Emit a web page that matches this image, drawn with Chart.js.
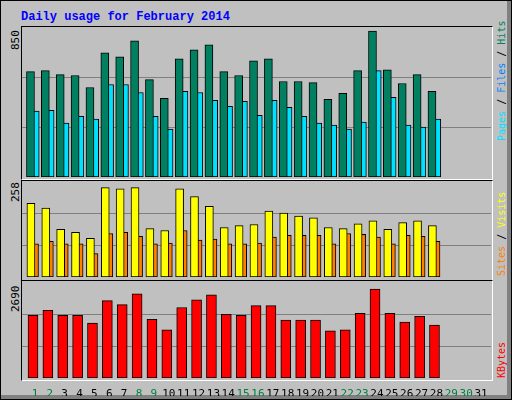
<!DOCTYPE html>
<html><head><meta charset="utf-8">
<script src="https://cdn.jsdelivr.net/npm/chart.js@4"></script>
<style>
body{margin:0;background:#fff}
#frame{position:absolute;left:0;top:0;width:510px;height:398px;background:#c0c0c0;border:1px solid #000;overflow:hidden}
#frame:after{content:"";position:absolute;right:0;top:0;width:4px;height:100%;background:#808080}
#bot{position:absolute;left:0;bottom:0;width:100%;height:4px;background:#808080}
.t{position:absolute;font-family:"Liberation Mono",monospace;font-weight:bold;font-size:12px;color:#0000ff;left:20px;top:9px;white-space:nowrap}
.panel{position:absolute;left:20px;width:470px;border-top:1px solid #000;border-left:1px solid #000;border-right:1px solid #fff;border-bottom:1px solid #fff}
.v{position:absolute;font-family:"DejaVu Sans Mono",monospace;font-size:10px;white-space:nowrap;transform:rotate(-90deg);transform-origin:left top}
canvas{position:absolute}
</style></head><body>
<div id="frame">
<div id="bot"></div>
<div class="t">Daily usage for February 2014</div>
<div class="panel" style="top:25px;height:152px"></div>
<div class="panel" style="top:179px;height:99px"></div>
<div class="panel" style="top:279px;height:99px"></div>
<div class="v" style="left:8px;top:49px;color:#000;font-size:11px">850</div>
<div class="v" style="left:8px;top:201px;color:#000;font-size:11px">258</div>
<div class="v" style="left:8px;top:311px;color:#000;font-size:11px">2690</div>
<div class="v" style="left:495px;top:140px"><span style="color:#00e0ff">Pages</span> / <span style="color:#0080ff">Files</span> / <span style="color:#008060">Hits</span></div>
<div class="v" style="left:495px;top:275px"><span style="color:#ff8000">Sites</span> / <span style="color:#ffff00">Visits</span></div>
<div class="v" style="left:495px;top:377px"><span style="color:#ff0000">KBytes</span></div>
<div style="position:absolute;left:21px;top:26px;width:469px;height:150px"><canvas id="c1"></canvas></div>
<div style="position:absolute;left:21px;top:180px;width:469px;height:96px"><canvas id="c2"></canvas></div>
<div style="position:absolute;left:21px;top:281px;width:469px;height:114px"><canvas id="c3"></canvas></div>
</div>
<script>
const days=[1,2,3,4,5,6,7,8,9,10,11,12,13,14,15,16,17,18,19,20,21,22,23,24,25,26,27,28];
const tickDays=[1,2,3,4,5,6,7,8,9,10,11,12,13,14,15,16,17,18,19,20,21,22,23,24,25,26,27,28,29,30,31];
const weekendDays=[1,2,8,9,15,16,22,23,29,30];
const hits=[597,603,580,575,507,704,681,771,552,446,670,721,749,597,575,659,670,541,541,535,440,474,603,827,608,530,580,485];
const files=[373,378,305,344,328,524,524,479,344,271,485,479,434,401,429,350,434,395,344,305,294,271,311,603,451,294,283,328];
const pages=[47,30,52,41,41,47,58,47,47,41,64,58,36,52,36,41,47,52,47,41,64,58,64,52,47,47,41,50];
const visits=[198,185,128,120,104,240,237,240,130,125,237,216,190,133,138,141,177,172,164,159,133,130,143,151,128,146,151,138];
const sites=[89,96,89,89,63,117,120,109,89,91,125,99,102,89,89,91,107,112,112,112,89,117,115,107,89,112,109,96];
const kbytes=[1756,1893,1756,1756,1538,2166,2057,2357,1647,1347,1975,2193,2330,1784,1756,2029,2029,1620,1620,1620,1320,1347,1811,2493,1811,1565,1729,1483];
const maxTop=850,maxMid=258,maxBot=2690;

function ds(vals,off,color,w){return{data:vals.map((v,i)=>({x:days[i]+off,y:v})),backgroundColor:color,borderColor:'#000',borderWidth:1,barThickness:w,grouped:false,borderSkipped:false};}
function mk(id,sets,max,showX){
  return new Chart(document.getElementById(id),{type:'bar',data:{datasets:sets},
  options:{responsive:true,maintainAspectRatio:false,animation:false,events:[],
   layout:{padding:0},plugins:{legend:{display:false},tooltip:{enabled:false}},
   scales:{
    x:{type:'linear',min:0.13,max:31.67,offset:false,display:showX,grid:{display:false},border:{display:false},
       afterBuildTicks:s=>{s.ticks=tickDays.map(v=>({value:v}));},
       afterFit:s=>{if(showX)s.height=18;},
       ticks:{padding:2,font:{family:'DejaVu Sans Mono',size:11},callback:v=>String(v),maxRotation:0,autoSkip:false,
         color:c=>weekendDays.includes(c.tick.value)?'#008040':'#000'}},
    y:{min:0,max:max,border:{display:false},grid:{color:'#808080',drawTicks:false,lineWidth:1},
       afterBuildTicks:s=>{s.ticks=[{value:max/3},{value:2*max/3}];},
       afterFit:s=>{s.width=0;},ticks:{display:false}}
   }}});
}
mk('c1',[ds(hits,-0.3,'#008060',8),ds(files,0.02,'#00e0ff',8),ds(pages,-0.33,'#0040ff',2)],maxTop,false);
mk('c2',[ds(visits,-0.27,'#ffff00',8),ds(sites,-0.03,'#ff8000',8)],maxMid,false);
mk('c3',[ds(kbytes,-0.13,'#ff0000',10)],maxBot,true);
</script>
</body></html>
